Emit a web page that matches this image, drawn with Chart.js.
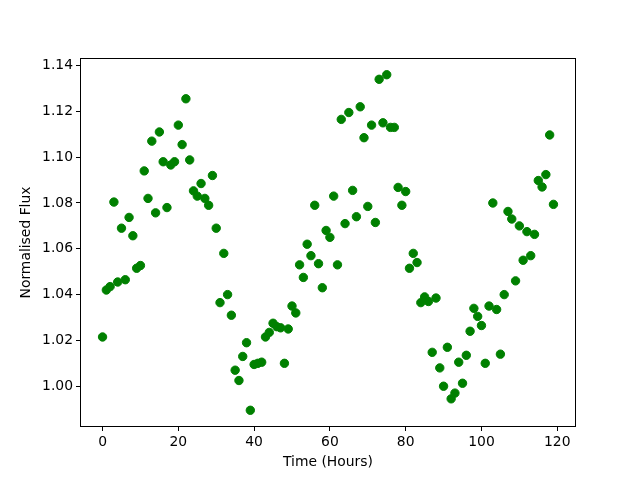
<!DOCTYPE html>
<html>
<head>
<meta charset="utf-8">
<script src="https://cdn.jsdelivr.net/npm/chart.js@4/dist/chart.umd.min.js"></script>
<style>
html,body{margin:0;padding:0;background:#fff;}
#wrap{width:640px;height:480px;}
</style>
</head>
<body>
<div id="wrap"><canvas id="c" width="640" height="480"></canvas></div>
<script>
const hours = [0,1,2,3,4,5,6,7,8,9,10,11,12,13,14,15,16,17,18,19,
  20,21,22,23,24,25,26,27,28,29,30,31,32,33,34,35,36,37,38,39,
  40,41,42,43,44,45,46,47,48,49,50,51,52,53,54,55,56,57,58,59,
  60,61,62,63,64,65,66,67,68,69,70,71,72,73,74,75,76,77,78,79,
  80,81,82,83,84,85,86,87,88,89,90,91,92,93,94,95,96,97,98,99,
  100,101,102,103,104,105,106,107,108,109,110,111,112,113,114,115,116,117,118,119];
const flux = [1.0215,1.042,1.0435,1.0804,1.0455,1.069,1.0465,1.0737,1.0657,1.0515,
  1.0527,1.094,1.082,1.107,1.0757,1.111,1.098,1.078,1.0966,1.098,
  1.114,1.1055,1.1255,1.0988,1.0853,1.083,1.0885,1.082,1.079,1.092,
  1.069,1.0365,1.058,1.040,1.031,1.007,1.0025,1.013,1.019,0.9895,
  1.0095,1.010,1.0105,1.0215,1.0235,1.0275,1.026,1.0255,1.010,1.025,
  1.035,1.032,1.053,1.0475,1.062,1.057,1.079,1.0535,1.043,1.068,
  1.065,1.083,1.053,1.1165,1.071,1.1195,1.0855,1.074,1.122,1.1085,
  1.0785,1.114,1.0715,1.134,1.115,1.136,1.113,1.113,1.0868,1.079,
  1.085,1.0515,1.058,1.054,1.0365,1.039,1.037,1.0148,1.0385,1.008,
  1.000,1.017,0.9945,0.997,1.0105,1.0013,1.0135,1.024,1.034,1.0305,
  1.0265,1.010,1.035,1.080,1.0335,1.014,1.040,1.0763,1.073,1.046,
  1.070,1.055,1.0675,1.057,1.0663,1.0898,1.087,1.0924,1.1097,1.0794];
const xTicks = [0,20,40,60,80,100,120];
const yTicks = [1.00,1.02,1.04,1.06,1.08,1.10,1.12,1.14];

const points = hours.map((h,i)=>({x:h,y:flux[i]}));
const FONT = {family:'"DejaVu Sans", sans-serif', size:13.9};

const frame = {
  id:'frame',
  afterDatasetsDraw(chart){
    const a = chart.chartArea, ctx = chart.ctx;
    ctx.save();
    ctx.strokeStyle = '#000';
    ctx.lineWidth = 1;
    ctx.strokeRect(Math.round(a.left)+0.5, Math.round(a.top)+0.5, Math.round(a.right-a.left)-1, Math.round(a.bottom-a.top)-1);
    ctx.restore();
  }
};

new Chart(document.getElementById('c'), {
  type:'scatter',
  data:{datasets:[{
    data:points,
    backgroundColor:'#008000',
    borderColor:'#008000',
    borderWidth:1,
    pointRadius:4.2,
    pointHoverRadius:4.2
  }]},
  options:{
    responsive:false,
    animation:false,
    events:[],
    layout:{padding:{left:0,right:64,top:58,bottom:0}},
    plugins:{legend:{display:false},tooltip:{enabled:false}},
    scales:{
      x:{
        type:'linear',
        min:-5.95, max:124.95,
        afterBuildTicks(s){ s.ticks = xTicks.map(v=>({value:v})); },
        afterFit(s){ s.height = 53; },
        border:{display:false},
        grid:{drawOnChartArea:false, drawTicks:true, tickLength:4, color:'#000', tickWidth:1},
        ticks:{color:'#000', font:FONT, padding:3, maxRotation:0, autoSkip:false,
          callback:(v)=>String(v)},
        title:{display:true, text:'Time (Hours)', color:'#000', font:FONT, padding:{top:0,bottom:9}}
      },
      y:{
        type:'linear',
        min:0.9822, max:1.1433,
        afterBuildTicks(s){ s.ticks = yTicks.map(v=>({value:v})); },
        afterFit(s){ s.width = 80; },
        border:{display:false},
        grid:{drawOnChartArea:false, drawTicks:true, tickLength:4, color:'#000', tickWidth:1},
        ticks:{color:'#000', font:FONT, padding:3, autoSkip:false,
          callback:(v)=>Number(v).toFixed(2)},
        title:{display:true, text:'Normalised Flux', color:'#000', font:FONT, padding:{top:18,bottom:0}}
      }
    }
  },
  plugins:[frame]
});
</script>
</body>
</html>
